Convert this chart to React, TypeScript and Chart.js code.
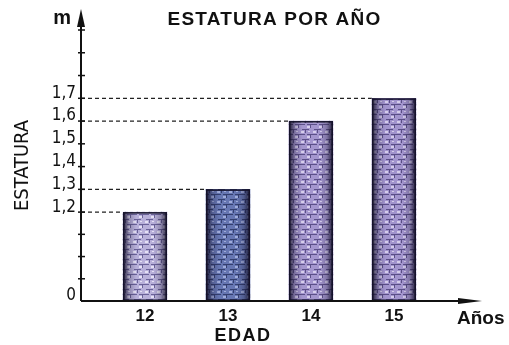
import React, { useEffect, useRef } from 'react';
import { Chart, registerables, LinearScale } from 'chart.js';

// ---- data ----
const AGES = [12, 13, 14, 15];
const HEIGHTS = [1.2, 1.3, 1.6, 1.7];
const Y_TICKS = [0, 0.3, 0.6, 0.9, 1.2, 1.3, 1.4, 1.5, 1.6, 1.7, 1.8, 1.9, 2.0];
const Y_LABELED = [0, 1.2, 1.3, 1.4, 1.5, 1.6, 1.7];
const TITLE = 'ESTATURA POR AÑO';
const Y_TITLE = 'ESTATURA';
const X_TITLE = 'EDAD';
const X_UNIT = 'Años';
const Y_UNIT = 'm';

// axis break (the lower part of the axis is compressed)
const BREAK_VALUE = 1.2;
const BREAK_FRACTION = 0.328;

// bar textures: [base, dark, light]
const BAR_COLORS = [
  ['#b8b0da', '#6a6298', '#e4e0f4'],
  ['#6676b2', '#343f70', '#a0acda'],
  ['#a496ce', '#5c5088', '#d6ceec'],
  ['#a294cd', '#5a4e86', '#d4ccea'],
];

class BrokenLinearScale extends LinearScale {
  static id = 'brokenLinear';
  static defaults = LinearScale.defaults;
  getPixelForValue(value: any) {
    if (value === null || value === undefined || isNaN(value)) return NaN;
    const min = (this as any).min;
    const max = (this as any).max;
    let dec: number;
    if (value <= BREAK_VALUE) dec = ((value - min) / (BREAK_VALUE - min)) * BREAK_FRACTION;
    else dec = BREAK_FRACTION + ((value - BREAK_VALUE) / (max - BREAK_VALUE)) * (1 - BREAK_FRACTION);
    return (this as any).getPixelForDecimal(dec);
  }
  getValueForPixel(pixel: number) {
    const dec = (this as any).getDecimalForPixel(pixel);
    const min = (this as any).min;
    const max = (this as any).max;
    if (dec <= BREAK_FRACTION) return min + (dec / BREAK_FRACTION) * (BREAK_VALUE - min);
    return BREAK_VALUE + ((dec - BREAK_FRACTION) / (1 - BREAK_FRACTION)) * (max - BREAK_VALUE);
  }
}

Chart.register(...registerables, BrokenLinearScale as any);

function makePattern(base: string, dark: string, light: string) {
  const c = document.createElement('canvas');
  c.width = 12;
  c.height = 10;
  const g = c.getContext('2d')!;
  g.fillStyle = base;
  g.fillRect(0, 0, 12, 10);
  g.fillStyle = dark;
  g.fillRect(0, 4, 5, 1);
  g.fillRect(7, 4, 5, 1);
  g.fillRect(2, 9, 7, 1);
  g.fillRect(5, 0, 1, 3);
  g.fillRect(10, 5, 1, 3);
  g.fillStyle = light;
  g.fillRect(1, 1, 3, 2);
  g.fillRect(7, 6, 3, 2);
  g.fillRect(8, 1, 2, 1);
  return g.createPattern(c, 'repeat');
}

const NARROW = "'DejaVu Sans Condensed', 'Liberation Sans Narrow', 'Liberation Sans', sans-serif";
const SANS = "'Liberation Sans', Arial, sans-serif";

const decorPlugin = {
  id: 'decor',
  beforeDatasetsDraw(chart: any) {
    const { ctx } = chart;
    const y = chart.scales.y;
    const axisX = chart.chartArea.left;
    const meta = chart.getDatasetMeta(0);
    ctx.save();
    ctx.strokeStyle = '#222';
    ctx.lineWidth = 1.3;
    ctx.setLineDash([4, 3]);
    meta.data.forEach((el: any, i: number) => {
      const p = el.getProps(['x', 'y', 'width'], true);
      const py = y.getPixelForValue(HEIGHTS[i]);
      ctx.beginPath();
      ctx.moveTo(axisX, py);
      ctx.lineTo(p.x - p.width / 2, py);
      ctx.stroke();
    });
    ctx.restore();
  },
  afterDatasetsDraw(chart: any) {
    const { ctx, chartArea } = chart;
    const x = chart.scales.x;
    const y = chart.scales.y;
    const meta = chart.getDatasetMeta(0);
    // bar edge shading
    meta.data.forEach((el: any) => {
      const p = el.getProps(['x', 'y', 'base', 'width'], true);
      const left = p.x - p.width / 2;
      const g = ctx.createLinearGradient(left, 0, left + p.width, 0);
      g.addColorStop(0, 'rgba(20,16,40,0.9)');
      g.addColorStop(0.14, 'rgba(20,16,40,0.25)');
      g.addColorStop(0.3, 'rgba(20,16,40,0)');
      g.addColorStop(0.7, 'rgba(20,16,40,0)');
      g.addColorStop(0.86, 'rgba(20,16,40,0.25)');
      g.addColorStop(1, 'rgba(20,16,40,0.9)');
      ctx.save();
      ctx.fillStyle = g;
      ctx.fillRect(left, p.y, p.width, p.base - p.y);
      ctx.strokeStyle = '#15122a';
      ctx.lineWidth = 1.5;
      ctx.strokeRect(left + 0.75, p.y + 0.75, p.width - 1.5, p.base - p.y - 1.5);
      ctx.restore();
    });

    const axisX = chartArea.left;
    const axisY = y.getPixelForValue(0);
    ctx.save();
    ctx.strokeStyle = '#111';
    ctx.fillStyle = '#111';
    // y axis with arrow
    ctx.lineWidth = 2;
    ctx.beginPath();
    ctx.moveTo(axisX, axisY);
    ctx.lineTo(axisX, chartArea.top - 12);
    ctx.stroke();
    ctx.beginPath();
    ctx.moveTo(axisX, chartArea.top - 21);
    ctx.lineTo(axisX - 4, chartArea.top - 3);
    ctx.lineTo(axisX + 4, chartArea.top - 3);
    ctx.closePath();
    ctx.fill();
    // y ticks
    ctx.lineWidth = 1.5;
    y.ticks.forEach((t: any) => {
      if (t.value === 0) return;
      const py = y.getPixelForValue(t.value);
      ctx.beginPath();
      ctx.moveTo(axisX - 3, py);
      ctx.lineTo(axisX + 4, py);
      ctx.stroke();
    });
    // x axis with arrow
    ctx.lineWidth = 2;
    ctx.beginPath();
    ctx.moveTo(axisX, axisY);
    ctx.lineTo(chartArea.right, axisY);
    ctx.stroke();
    ctx.beginPath();
    ctx.moveTo(chartArea.right + 12, axisY);
    ctx.lineTo(chartArea.right - 12, axisY - 3);
    ctx.lineTo(chartArea.right - 12, axisY + 3);
    ctx.closePath();
    ctx.fill();

    // texts
    ctx.fillStyle = '#111';
    ctx.textBaseline = 'middle';
    ctx.textAlign = 'center';
    ctx.font = `bold 19px ${SANS}`;
    (ctx as any).letterSpacing = '1.2px';
    ctx.fillText(TITLE, (chartArea.left + chartArea.right) / 2 - 1, 20);
    ctx.font = `bold 18px ${SANS}`;
    (ctx as any).letterSpacing = '1.5px';
    ctx.fillText(X_TITLE, x.getPixelForValue(13) + 15, 336);
    (ctx as any).letterSpacing = '0px';
    ctx.textAlign = 'left';
    ctx.font = `bold 19px ${SANS}`;
    ctx.fillText(X_UNIT, chartArea.right - 13, 319);
    ctx.textAlign = 'right';
    ctx.font = `bold 20px ${SANS}`;
    ctx.fillText(Y_UNIT, axisX - 10, 18);
    ctx.restore();
  },
};

export default function App() {
  const ref = useRef<HTMLCanvasElement | null>(null);
  useEffect(() => {
    if (!ref.current) return;
    const patterns = BAR_COLORS.map(([b, d, l]) => makePattern(b, d, l));
    const chart = new Chart(ref.current, {
      type: 'bar',
      data: {
        datasets: [
          {
            label: Y_TITLE,
            data: AGES.map((a, i) => ({ x: a, y: HEIGHTS[i] })) as any,
            backgroundColor: patterns as any,
            borderColor: '#1a1630',
            borderWidth: 0,
            barThickness: 44,
          },
        ],
      },
      options: {
        responsive: false,
        animation: false,
        layout: { padding: { top: 30, right: 39, left: 0, bottom: 0 } },
        plugins: {
          legend: { display: false },
          tooltip: { enabled: false },
          title: { display: false },
        },
        scales: {
          x: {
            type: 'linear',
            position: 'bottom',
            offset: false,
            min: 11.229,
            max: 15.916,
            afterBuildTicks: (s: any) => {
              s.ticks = AGES.map((v) => ({ value: v }));
            },
            afterFit: (s: any) => {
              s.height = 44;
            },
            grid: { display: false, drawTicks: false, offset: false },
            border: { display: false },
            ticks: {
              autoSkip: false,
              maxRotation: 0,
              padding: 5,
              color: '#111',
              font: { family: SANS, size: 17, weight: 'bold' },
              callback: (v: any) => String(v),
            },
          },
          y: {
            type: 'brokenLinear' as any,
            min: 0,
            max: 2.0,
            afterBuildTicks: (s: any) => {
              s.ticks = Y_TICKS.map((v) => ({ value: v }));
            },
            afterFit: (s: any) => {
              s.width = 81;
            },
            grid: { display: false, drawTicks: false },
            border: { display: false },
            title: {
              display: true,
              text: Y_TITLE,
              color: '#111',
              font: { family: NARROW, size: 20 },
              padding: { top: 11, bottom: 0 },
            },
            ticks: {
              autoSkip: false,
              padding: 5,
              labelOffset: -5,
              color: '#111',
              font: { family: NARROW, size: 17 },
              callback: (v: any) =>
                Y_LABELED.some((l) => Math.abs(l - v) < 1e-6)
                  ? (v === 0 ? '0' : Number(v).toFixed(1).replace('.', ','))
                  : '',
            },
          },
        },
      } as any,
      plugins: [decorPlugin],
    });
    return () => chart.destroy();
  }, []);
  return (
    <div style={{ position: 'fixed', left: 0, top: 0, width: 509, height: 345, background: '#fff' }}>
      <canvas ref={ref} width={509} height={345} />
    </div>
  );
}
